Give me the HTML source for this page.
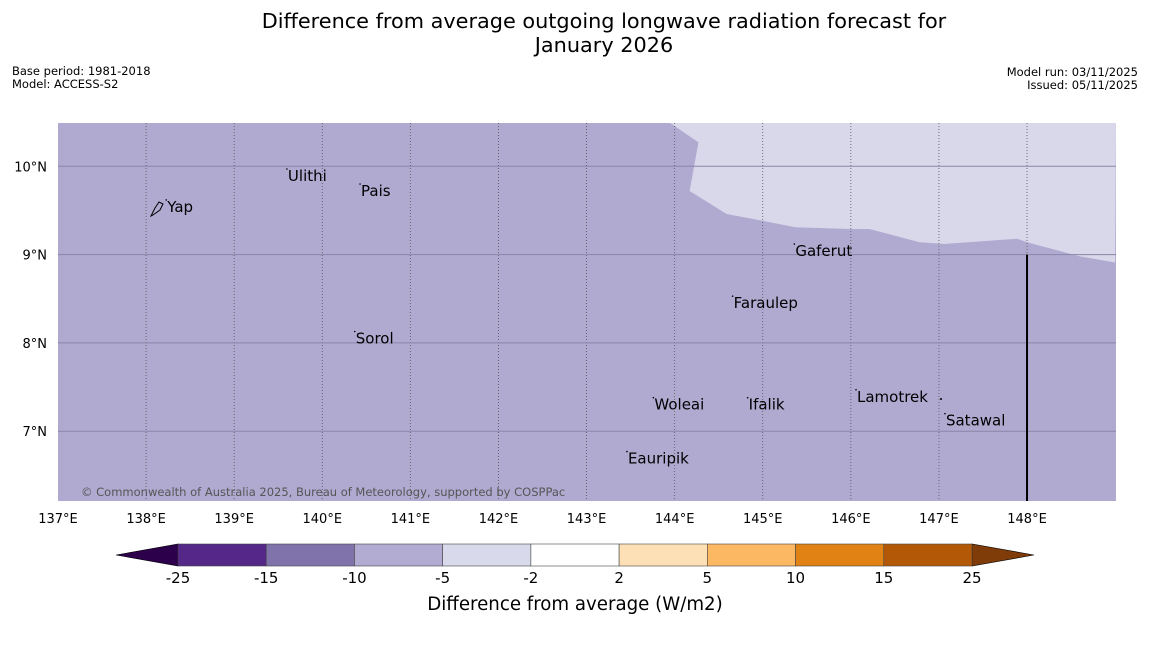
<!DOCTYPE html>
<html><head><meta charset="utf-8"><style>
body{margin:0;width:1150px;height:644px;background:#fff;font-family:"Liberation Sans","DejaVu Sans",sans-serif;overflow:hidden}
svg text{font-family:"DejaVu Sans","Liberation Sans",sans-serif}
</style></head><body>
<svg id="chart" width="1150" height="644" xmlns="http://www.w3.org/2000/svg">
<text x="604" y="28" font-size="20.8" text-anchor="middle">Difference from average outgoing longwave radiation forecast for</text>
<text x="604" y="52" font-size="20.8" text-anchor="middle">January 2026</text>
<text x="12" y="75" font-size="11.5">Base period: 1981-2018</text>
<text x="12" y="88" font-size="11.5">Model: ACCESS-S2</text>
<text x="1138" y="76" font-size="11.5" text-anchor="end">Model run: 03/11/2025</text>
<text x="1138" y="89" font-size="11.5" text-anchor="end">Issued: 05/11/2025</text>
<g id="map"></g>
<g id="cbar"></g>
<text x="575" y="610" font-size="18.2" text-anchor="middle">Difference from average (W/m2)</text>
</svg>
<script>
const lonTicks=[137,138,139,140,141,142,143,144,145,146,147,148];
const latTicks=[10,9,8,7];
const contourLon=[143.95,144.27,144.17,144.59,145.01,145.37,145.99,146.21,146.78,147.06,147.89,148.0,148.6,149.0];
const contourLat=[10.49,10.27,9.72,9.46,9.38,9.31,9.29,9.29,9.14,9.12,9.18,9.14,8.98,8.91];
const islandNames=["Ulithi","Pais","Yap","Gaferut","Faraulep","Sorol","Lamotrek","Satawal","Woleai","Ifalik","Eauripik"];
const islandLon=[139.61,140.44,138.24,145.37,144.67,140.38,146.07,147.08,143.77,144.84,143.47];
const islandLat=[9.89,9.72,9.54,9.04,8.45,8.05,7.39,7.12,7.30,7.30,6.69];
const cbLevels=["-25","-15","-10","-5","-2","2","5","10","15","25"];
const cbColors=["#542788","#8073ac","#b2abd2","#d8daeb","#ffffff","#fee0b6","#fdb863","#e08214","#b35806"];
const extColors=["#2d004b","#7f3b08"];
const NS="http://www.w3.org/2000/svg";
const x0=58,x1=1116,y0=123,y1=501;
const lonMin=137,lonMax=149.01,latMin=6.21,latMax=10.49;
const X=l=>x0+(l-lonMin)/(lonMax-lonMin)*(x1-x0);
const Y=l=>y0+(latMax-l)/(latMax-latMin)*(y1-y0);
function mk(tag,attrs,parent){const e=document.createElementNS(NS,tag);for(const k in attrs)e.setAttribute(k,attrs[k]);parent.appendChild(e);return e;}
const map=document.getElementById('map');
let r=mk('rect',{x:x0,y:y0,width:x1-x0,height:y1-y0,fill:'#b0aad1'},map);


let pts=contourLon.map((l,i)=>X(l)+','+Y(contourLat[i]));
pts.push(x1+','+y0);
let poly=mk('polygon',{points:pts.join(' '),fill:'#d8d8ea'},map);


lonTicks.forEach(l=>{
 if(l>lonMin){let ln=mk('line',{x1:X(l),x2:X(l),y1:y0,y2:y1,stroke:'#555',"stroke-width":0.8,"stroke-dasharray":"1,2"},map);
 
 }
 let t=mk('text',{x:X(l),y:523,"font-size":13,"text-anchor":"middle"},map);t.textContent=l+'°E';
 
 
});
latTicks.forEach(l=>{
 let ln=mk('line',{x1:x0,x2:x1,y1:Y(l),y2:Y(l),stroke:'#8a85a8',"stroke-width":1},map);
 
 
 let t=mk('text',{x:47,y:Y(l)+5,"font-size":13,"text-anchor":"end"},map);t.textContent=l+'°N';
 
 
});
let vl=mk('line',{x1:X(148),x2:X(148),y1:Y(9),y2:y1,stroke:'#000',"stroke-width":2},map);


islandNames.forEach((n,i)=>{
 const px=X(islandLon[i]),py=Y(islandLat[i]);
 let d=mk('circle',{cx:px-1,cy:py-7,r:0.8,fill:'#000'},map);
 
 
 let t=mk('text',{x:px,y:py+5,"font-size":15},map);t.textContent=n;
 
 
});
let yap=mk('path',{d:"M151,216 L155,208 L159,202 L163,204 L160,210 L153,215 Z",fill:'none',stroke:'#000',"stroke-width":1},map);


let dot=mk('circle',{cx:941,cy:399,r:1,fill:'#000'},map);


let cp=mk('text',{x:81,y:496,"font-size":11.5,fill:'#555'},map);cp.textContent='© Commonwealth of Australia 2025, Bureau of Meteorology, supported by COSPPac';


const cb=document.getElementById('cbar');
const cbx0=178,cbx1=972,cby0=544,cby1=566,n=cbColors.length,w=(cbx1-cbx0)/n;
let lt=mk('polygon',{points:`116,555 ${cbx0},${cby0} ${cbx0},${cby1}`,fill:extColors[0],stroke:'#000',"stroke-width":0.6},cb);


let rt=mk('polygon',{points:`1034,555 ${cbx1},${cby0} ${cbx1},${cby1}`,fill:extColors[1],stroke:'#000',"stroke-width":0.6},cb);


cbColors.forEach((c,i)=>{
 let b=mk('rect',{x:cbx0+i*w,y:cby0,width:w,height:cby1-cby0,fill:c,stroke:'#444',"stroke-width":0.6},cb);
 
 
});
cbLevels.forEach((v,i)=>{
 let t=mk('text',{x:cbx0+i*w,y:583,"font-size":15,"text-anchor":"middle"},cb);t.textContent=v;
 
 
});
</script>
</body></html>
